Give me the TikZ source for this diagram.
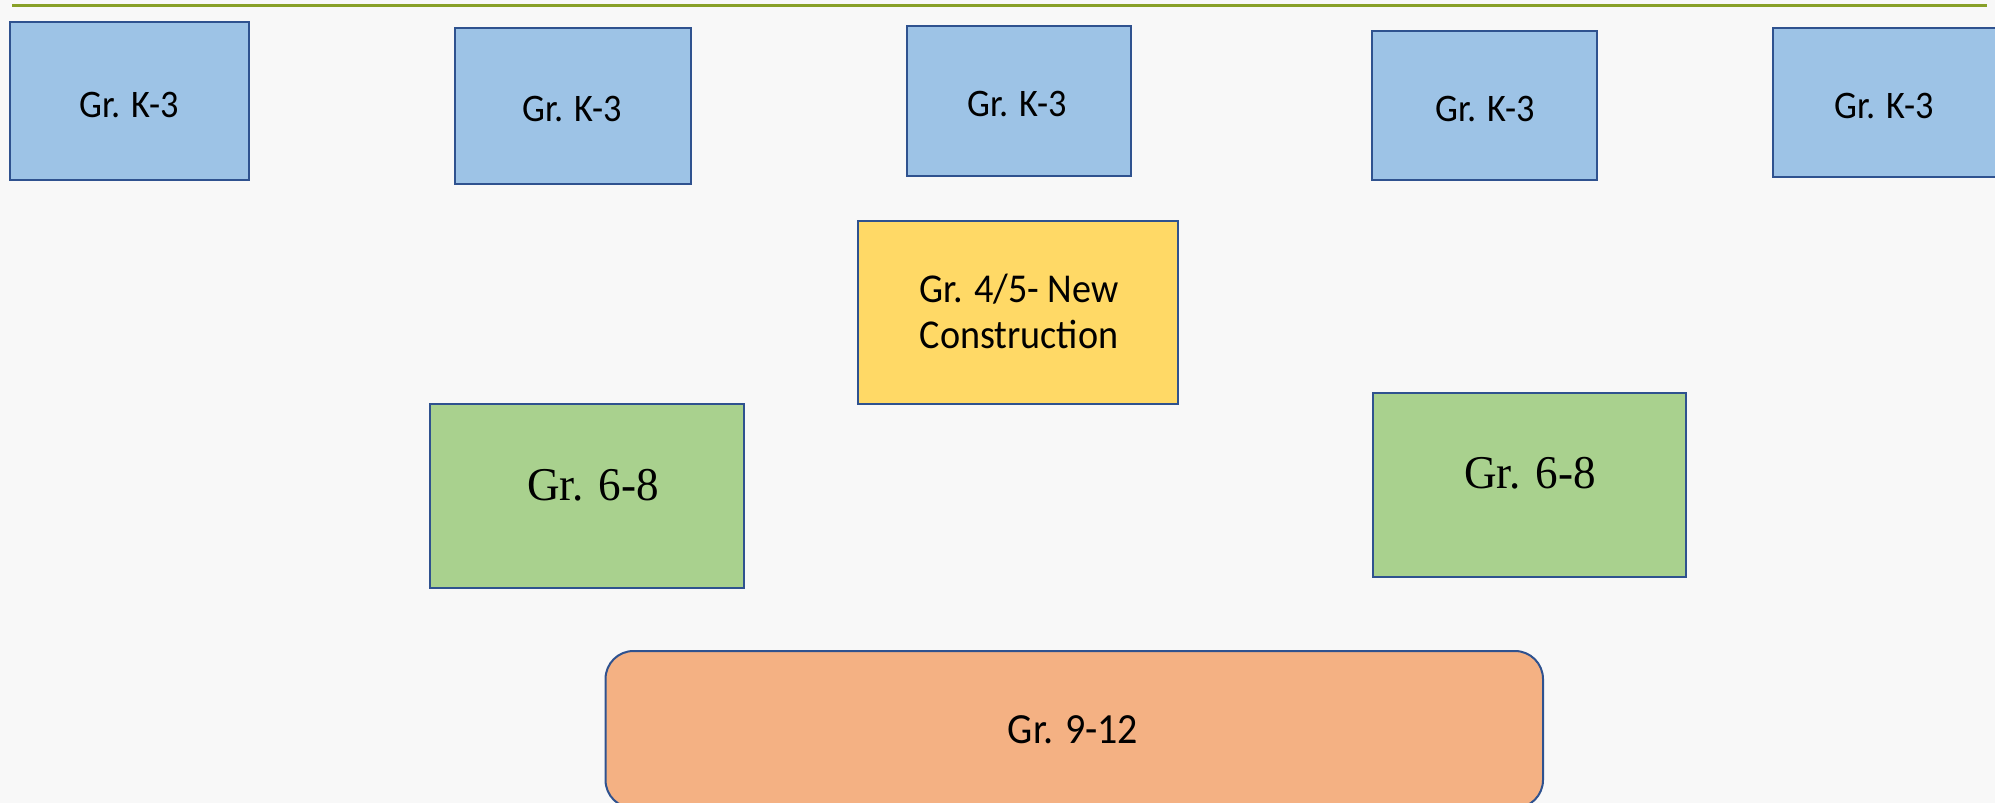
\documentclass[tikz,border=0pt]{standalone}
\usepackage{fontspec}
\setmainfont{Carlito}
\newfontfamily\serifgr{Liberation Serif}
\definecolor{bgc}{RGB}{248,248,248}
\definecolor{rulec}{RGB}{136,160,40}
\definecolor{edgec}{RGB}{47,82,143}
\definecolor{bluec}{RGB}{157,195,230}
\definecolor{yelc}{RGB}{255,217,102}
\definecolor{grnc}{RGB}{169,209,142}
\definecolor{orac}{RGB}{244,177,131}
\newcommand{\narrowtxt}[2]{\scalebox{#1}[1]{#2}}
\tikzset{
  gbox/.style={draw=edgec, line width=2pt, inner sep=0pt, rectangle},
  k3box/.style={gbox, fill=bluec},
  midbox/.style={gbox, fill=yelc},
  msbox/.style={gbox, fill=grnc},
  hsbox/.style={gbox, fill=orac, rounded corners=28pt},
  lbl/.style={anchor=base, inner sep=0pt, text=black},
  k3lbl/.style={lbl, font=\fontsize{39}{46}\selectfont},
  ylbl/.style={lbl, font=\fontsize{41}{46}\selectfont},
  glbl/.style={lbl, font=\serifgr\fontsize{47}{54}\selectfont},
  olbl/.style={lbl, font=\fontsize{43}{50}\selectfont},
}
\begin{document}
\begin{tikzpicture}[x=1pt,y=-1pt]
\useasboundingbox (0,0) rectangle (1995,803);
\clip (0,0) rectangle (1995,803);
\fill[bgc] (0,0) rectangle (1995,803);
\coordinate (r1) at (12,5.5);
\coordinate (r2) at (1987,5.5);
\draw[rulec, line width=3.4pt] (r1) -- (r2);
% K-3 boxes
\node[k3box, minimum width=239pt, minimum height=157.5pt] (b1) at (129.5,101) {};
\node[k3box, minimum width=235.5pt, minimum height=156pt] (b2) at (572.75,106) {};
\node[k3box, minimum width=224pt, minimum height=150pt] (b3) at (1019,101) {};
\node[k3box, minimum width=225pt, minimum height=149pt] (b4) at (1484.5,105.5) {};
\node[k3box, minimum width=227pt, minimum height=149pt] (b5) at (1886.5,102.5) {};
\node[k3lbl] (t1) at (129,117) {\narrowtxt{0.93}{Gr. K-3}};
\node[k3lbl] (t2) at (572,121) {\narrowtxt{0.93}{Gr. K-3}};
\node[k3lbl] (t3) at (1017,116) {\narrowtxt{0.93}{Gr. K-3}};
\node[k3lbl] (t4) at (1485,121) {\narrowtxt{0.93}{Gr. K-3}};
\node[k3lbl] (t5) at (1884,118) {\narrowtxt{0.93}{Gr. K-3}};
% Gr 4/5
\node[midbox, minimum width=319.5pt, minimum height=183pt] (y1) at (1018,312.5) {};
\node[ylbl] (ty1) at (1019,302) {\narrowtxt{0.93}{Gr. 4/5- New}};
\node[ylbl] (ty2) at (1019,348) {\narrowtxt{0.93}{Construction}};
% Gr 6-8
\node[msbox, minimum width=314pt, minimum height=184pt] (g1) at (587,496) {};
\node[msbox, minimum width=313pt, minimum height=184pt] (g2) at (1529,485) {};
\node[glbl] (tg1) at (593,500) {\narrowtxt{0.96}{Gr. 6-8}};
\node[glbl] (tg2) at (1530,488) {\narrowtxt{0.96}{Gr. 6-8}};
% Gr 9-12
\node[hsbox, minimum width=937.5pt, minimum height=157pt] (o1) at (1074.25,729.5) {};
\node[olbl] (to1) at (1073,743) {\narrowtxt{0.93}{Gr. 9-12}};
\end{tikzpicture}
\end{document}
